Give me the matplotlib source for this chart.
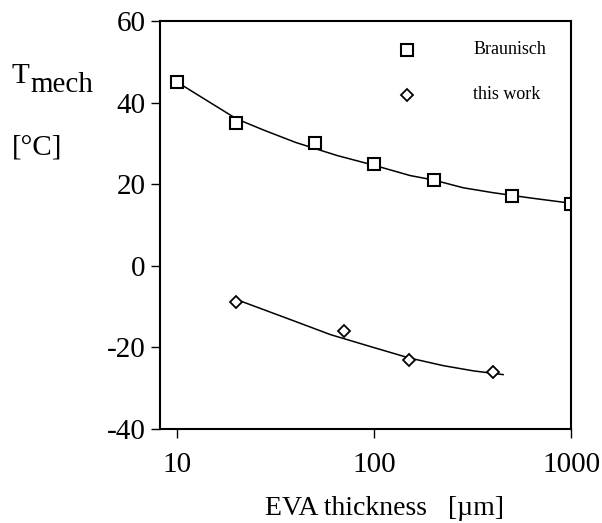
import numpy as np
import matplotlib.pyplot as plt

plt.rcParams['font.family'] = ['Liberation Serif', 'DejaVu Serif']
plt.rcParams['axes.unicode_minus'] = False

# Braunisch data
br_x = [10, 20, 50, 100, 200, 500, 1000]
br_y = [45, 35, 30, 25, 21, 17, 15]
# trend line through Braunisch data
br_fit_x = [10, 20, 27.3, 40, 64.9, 100, 152, 200, 283, 400, 620, 1000]
br_fit_y = [45, 36.0, 33.3, 30.2, 27.0, 24.6, 22.1, 21.0, 19.1, 17.9, 16.6, 15.3]

# this work
tw_x = [20, 70, 150, 400]
tw_y = [-9, -16, -23, -26]
tw_fit_x = [20, 37.5, 60, 100, 150, 224, 320, 451]
tw_fit_y = [-8.3, -13.2, -16.9, -20.1, -22.6, -24.5, -25.8, -26.7]

fig = plt.figure(figsize=(6.02, 5.23), dpi=100)
ax = fig.add_axes([0.266, 0.180, 0.683, 0.780])

ax.plot(br_fit_x, br_fit_y, color='black', lw=1.1)
ax.plot(tw_fit_x, tw_fit_y, color='black', lw=1.1)
ax.plot(br_x, br_y, ls='none', marker='s', ms=9, mfc='white', mec='black', mew=1.5)
ax.plot(tw_x, tw_y, ls='none', marker='D', ms=6.5, mfc='white', mec='black', mew=1.3)

ax.set_xscale('log')
ax.set_xlim(8.2, 1000)
ax.set_ylim(-40, 60)
ax.set_xticks([10, 100, 1000])
ax.set_xticklabels(['10', '100', '1000'])
ax.minorticks_off()
ax.set_yticks([-40, -20, 0, 20, 40, 60])
ax.tick_params(direction='out', length=6.5, width=1, labelsize=21, pad=4)
ax.tick_params(axis='x', pad=10)
for s in ax.spines.values():
    s.set_linewidth(1.5)

# legend drawn inside the frame
ax.plot([147], [52.9], ls='none', marker='s', ms=8, mfc='white', mec='black', mew=1.5)
ax.plot([147], [41.9], ls='none', marker='D', ms=6, mfc='white', mec='black', mew=1.3)
ax.text(318, 52.9, 'Braunisch', fontsize=13, va='center', ha='left')
ax.text(318, 41.9, 'this work', fontsize=13, va='center', ha='left')

ax.set_xlabel('EVA thickness   [\u00b5m]', fontsize=20)
ax.xaxis.set_label_coords(0.545, -0.165)

fig.text(12 / 602, 1 - 83 / 523, 'T', fontsize=21, va='baseline', ha='left')
fig.text(30 / 602, 1 - 92 / 523, 'mech', fontsize=21, va='baseline', ha='left')
fig.text(12 / 602, 1 - 148 / 523, '[\u00b0C]', fontsize=21, va='center', ha='left')

fig.savefig('out.png', dpi=100)
